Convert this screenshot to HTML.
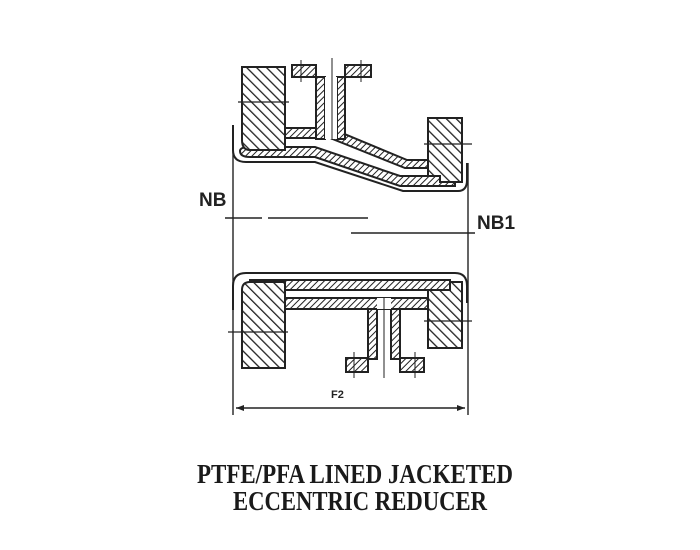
<!DOCTYPE html>
<html><head><meta charset="utf-8"><style>
html,body{margin:0;padding:0;background:#fff;}
svg{display:block;}
</style></head><body>
<svg width="700" height="550" viewBox="0 0 700 550" xmlns="http://www.w3.org/2000/svg">
<defs>
<pattern id="hb" patternUnits="userSpaceOnUse" width="7" height="7" patternTransform="rotate(-45)">
<rect width="7" height="7" fill="#fff"/><line x1="0" y1="0" x2="0" y2="7" stroke="#222" stroke-width="2.6"/>
</pattern>
<pattern id="hs" patternUnits="userSpaceOnUse" width="4.5" height="4.5" patternTransform="rotate(45)">
<rect width="5" height="5" fill="#fff"/><line x1="0" y1="0" x2="0" y2="5" stroke="#222" stroke-width="2"/>
</pattern>
</defs>
<g stroke="#222" stroke-width="2" fill="none">
<!-- outer envelope top -->
<path d="M233 125 L233 150 Q233 162 246 162 L315 162 L403 191 L458 191 Q467 191 467 180 L467 163"/>
<!-- top liner -->
<path d="M240 151 Q240 147 250 147 L315 147 L400 176 L455 176 L455 186 L400 186 L315 157 L250 157 Q240 157 240 151 Z" fill="url(#hs)"/>
<!-- top jacket -->
<path d="M285 128 L330 128 L407 160 L428 160 L428 168 L405 168 L330 138 L285 138 Z" fill="url(#hs)"/>
<!-- top nozzle -->
<rect x="316" y="77" width="9" height="62" fill="url(#hs)"/>
<rect x="337" y="77" width="8" height="62" fill="url(#hs)"/>
<rect x="325" y="77" width="12" height="62" fill="#fff" stroke="none"/>
<rect x="292" y="65" width="24" height="12" fill="url(#hs)"/>
<rect x="345" y="65" width="26" height="12" fill="url(#hs)"/>
<line x1="332" y1="58" x2="332" y2="140" stroke-width="1"/>
<line x1="301" y1="60" x2="301" y2="82" stroke-width="1"/>
<line x1="361" y1="60" x2="361" y2="82" stroke-width="1"/>
<!-- top left flange -->
<path d="M242 67 L285 67 L285 150 L250 150 Q242 150 242 140 Z" fill="url(#hb)"/>
<line x1="238" y1="102" x2="289" y2="102" stroke-width="1.2"/>
<!-- top right flange -->
<path d="M428 118 L462 118 L462 182 L440 182 L440 176 L428 176 Z" fill="url(#hb)"/>
<line x1="424" y1="144" x2="472" y2="144" stroke-width="1.2"/>
<!-- bottom envelope -->
<path d="M233 310 L233 286 Q233 273 246 273 L455 273 Q467 273 467 286 L467 303"/>
<rect x="250" y="280" width="200" height="10" fill="url(#hs)"/>
<rect x="285" y="298" width="143" height="11" fill="url(#hs)"/>
<!-- bottom left flange -->
<path d="M242 290 Q242 282 250 282 L285 282 L285 368 L242 368 Z" fill="url(#hb)"/>
<line x1="228" y1="332" x2="288" y2="332" stroke-width="1.2"/>
<!-- bottom right flange -->
<path d="M428 290 L450 290 L450 282 L462 282 L462 348 L428 348 Z" fill="url(#hb)"/>
<line x1="424" y1="321" x2="472" y2="321" stroke-width="1.2"/>
<!-- bottom nozzle -->
<rect x="368" y="309" width="9" height="50" fill="url(#hs)"/>
<rect x="391" y="309" width="9" height="50" fill="url(#hs)"/>
<rect x="377" y="298" width="14" height="11" fill="#fff" stroke="none"/>
<rect x="346" y="358" width="22" height="14" fill="url(#hs)"/>
<rect x="400" y="358" width="24" height="14" fill="url(#hs)"/>
<line x1="384" y1="298" x2="384" y2="378" stroke-width="1"/>
<line x1="354" y1="352" x2="354" y2="378" stroke-width="1"/>
<line x1="415" y1="352" x2="415" y2="378" stroke-width="1"/>
<!-- verticals and dims -->
<line x1="233" y1="125" x2="233" y2="415" stroke-width="1.4"/>
<line x1="468" y1="163" x2="468" y2="415" stroke-width="1.4"/>
<line x1="236" y1="408" x2="465" y2="408" stroke-width="1.4"/>
<path d="M236 408 L244 405 L244 411 Z M465 408 L457 405 L457 411 Z" fill="#222" stroke="none"/>
<line x1="225" y1="218" x2="262" y2="218" stroke-width="1.6"/>
<line x1="268" y1="218" x2="368" y2="218" stroke-width="1.6"/>
<line x1="351" y1="233" x2="475" y2="233" stroke-width="1.6"/>
</g>
<g font-family="Liberation Sans, sans-serif" font-weight="bold" fill="#222">
<text x="199" y="206" font-size="19">NB</text>
<text x="477" y="229" font-size="19">NB1</text>
<text x="331" y="398" font-size="11">F2</text>
</g>
<g font-family="Liberation Serif, serif" font-weight="bold" fill="#1a1a1a" font-size="27">
<text x="197" y="483" textLength="316" lengthAdjust="spacingAndGlyphs">PTFE/PFA LINED JACKETED</text>
<text x="233" y="510" textLength="254" lengthAdjust="spacingAndGlyphs">ECCENTRIC REDUCER</text>
</g>
</svg>
</body></html>
